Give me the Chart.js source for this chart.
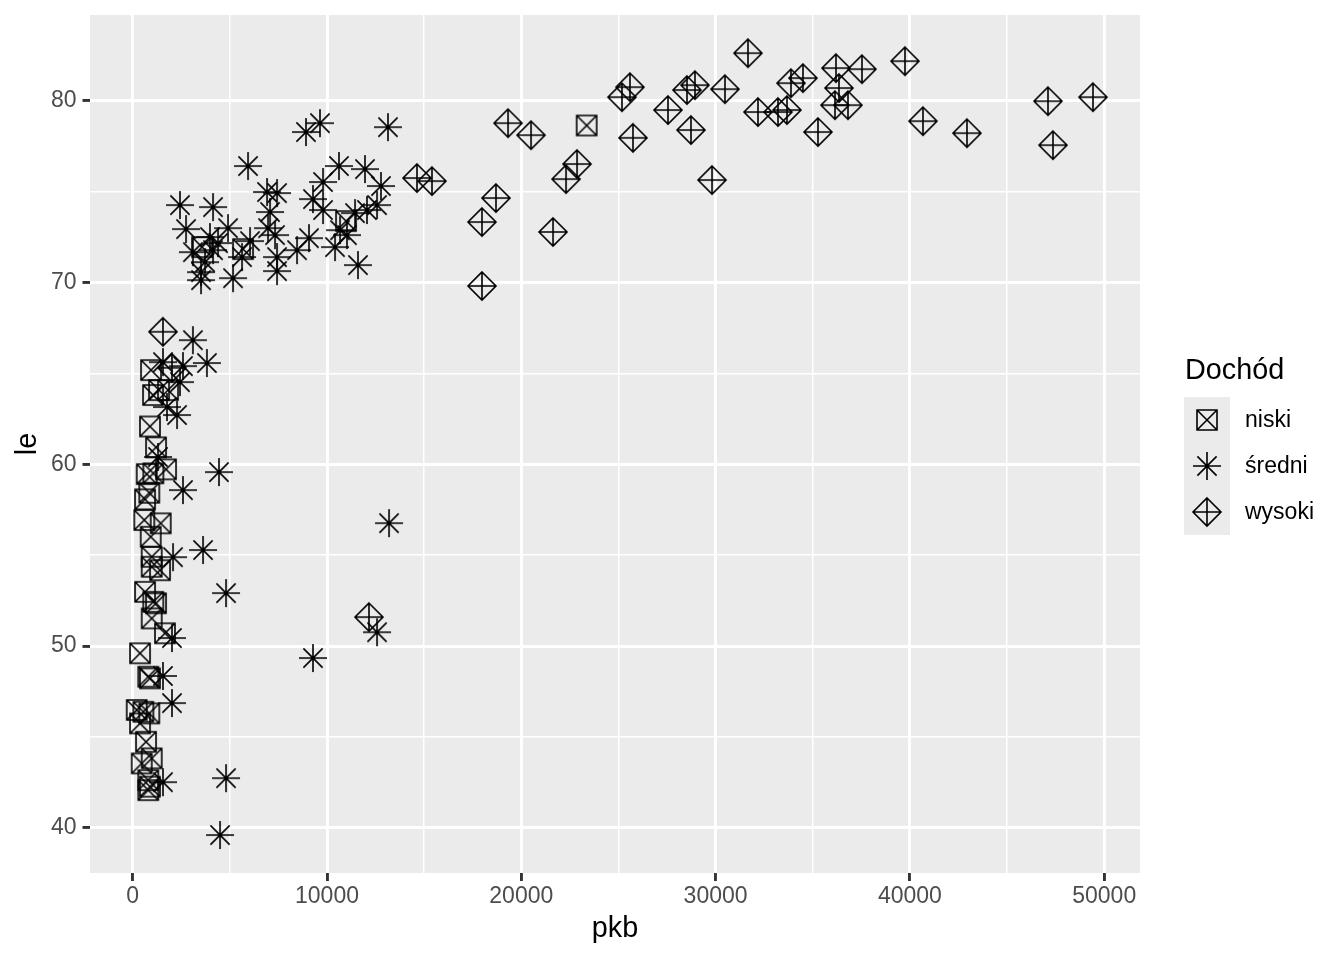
<!DOCTYPE html>
<html>
<head>
<meta charset="utf-8">
<script src="https://cdn.jsdelivr.net/npm/chart.js@4.4.1/dist/chart.umd.min.js"></script>
<style>
  html, body { margin: 0; padding: 0; background: #ffffff; }
  #wrap { width: 1344px; height: 960px; }
</style>
</head>
<body>
<div id="wrap"><canvas id="chart" width="1344" height="960"></canvas></div>
<script>
// niski (low income)
var niskiX = [942, 1354, 1817, 1045, 890, 1199, 1714, 720, 1062, 854, 633, 597, 1441, 926, 978,
              1405, 978, 633, 1060, 1199, 978, 1662, 376, 803, 890, 206, 546, 854, 376, 685,
              978, 463, 803, 803, 890, 23365, 3567, 5677, 10978];
var niskiY = [65.18, 64.08, 64.08, 63.81, 62.08, 60.93, 59.72, 59.46, 59.5, 58.43, 58.07, 56.93, 56.75, 56.01, 54.91,
              54.17, 54.36, 52.98, 52.43, 52.35, 51.52, 50.7, 49.6, 48.31, 48.22, 46.48, 46.38, 46.29, 45.74, 44.73,
              43.82, 43.54, 42.62, 42.07, 42.26, 78.64, 71.95, 71.84, 73.38];

// średni (middle income)
var sredniX = [3098, 3818, 1559, 2588, 2434, 1765, 2280, 1302, 4441, 2588, 3618, 2074, 4802, 2022, 9279,
               1559, 2022, 4802, 1559, 4493, 13191, 12574,
               2434, 4133, 5934, 2743, 4905, 3978, 3098, 4390, 3721, 3515, 3515, 5162, 5626, 6037,
               6912, 7427, 7067, 6964, 7324, 7427, 7427, 8456, 9073, 9279, 9794, 9794, 10617, 11955,
               12778, 10669, 10412, 11029, 11441, 12058, 12574, 11595, 8919, 9639, 13139, 4133];
var sredniY = [66.83, 65.57, 65.62, 65.4, 64.52, 63.15, 62.71, 60.4, 59.57, 58.58, 55.28, 54.89, 52.91, 50.44, 49.34,
               48.35, 46.86, 42.73, 42.51, 39.6, 56.76, 50.76,
               74.26, 74.15, 76.41, 72.94, 72.99, 72.5, 71.67, 72.17, 71.12, 70.57, 70.13, 70.24, 71.4, 72.28,
               74.98, 74.92, 73.88, 72.99, 72.61, 71.4, 70.63, 71.78, 72.44, 74.59, 75.53, 73.99, 76.41, 76.24,
               75.31, 72.88, 71.95, 72.61, 73.82, 73.99, 74.26, 70.96, 78.28, 78.77, 78.55, 71.78];

// wysoki (high income)
var wysokiX = [1559, 2022, 14630, 15402, 12161, 19317, 20500, 22868, 22302, 18697, 17977, 21632, 17977, 25748,
               25182, 25594, 27550, 28734, 29815, 28528, 28939, 30483, 31667, 32181, 33211, 33674, 33880,
               34497, 35269, 36195, 37534, 36350, 36144, 36813, 39746, 40672, 42937, 47106, 47363, 49421];
var wysokiY = [67.29, 65.31, 75.75, 75.58, 51.59, 78.77, 78.11, 76.52, 75.69, 74.65, 73.33, 72.78, 69.81, 77.96,
               80.2, 80.75, 79.49, 78.39, 75.64, 80.59, 80.86, 80.64, 82.62, 79.38, 79.38, 79.49, 80.97,
               81.25, 78.28, 81.8, 81.74, 80.7, 79.76, 79.76, 82.18, 78.88, 78.22, 79.98, 77.56, 80.2];

var categories = ['niski', 'średni', 'wysoki'];
var xTicks = [0, 5000, 10000, 15000, 20000, 25000, 30000, 35000, 40000, 45000, 50000];
var xTickLabels = ['0', '', '10000', '', '20000', '', '30000', '', '40000', '', '50000'];
var yTicks = [40, 45, 50, 55, 60, 65, 70, 75, 80];
var yTickLabels = ['40', '', '50', '', '60', '', '70', '', '80'];

var FONT = '"Liberation Sans", Arial, Helvetica, sans-serif';
var PANEL = '#EBEBEB';

function pairs(xs, ys) {
    return xs.map(function(x, i) { return { x: x, y: ys[i] }; });
}

// ggplot-like shapes drawn once onto small canvases and used as pointStyle
function makeShape(kind, bg) {
    var size = bg ? 46 : 32;
    var c = document.createElement('canvas');
    c.width = size;
    c.height = size;
    var g = c.getContext('2d');
    var m = size / 2;
    if (bg) {
        g.fillStyle = bg;
        g.fillRect(0, 0, size, size);
    }
    g.strokeStyle = '#000000';
    g.lineWidth = 1.6;
    g.beginPath();
    if (kind === 'square') {
        var h = 10;
        g.rect(m - h, m - h, 2 * h, 2 * h);
        g.moveTo(m - h, m - h); g.lineTo(m + h, m + h);
        g.moveTo(m + h, m - h); g.lineTo(m - h, m + h);
    } else if (kind === 'star') {
        var r = 14, d = 9.6;
        g.moveTo(m - r, m); g.lineTo(m + r, m);
        g.moveTo(m, m - r); g.lineTo(m, m + r);
        g.moveTo(m - d, m - d); g.lineTo(m + d, m + d);
        g.moveTo(m + d, m - d); g.lineTo(m - d, m + d);
    } else {
        var k = 14;
        g.moveTo(m, m - k); g.lineTo(m + k, m); g.lineTo(m, m + k); g.lineTo(m - k, m); g.closePath();
        g.moveTo(m - k, m); g.lineTo(m + k, m);
        g.moveTo(m, m - k); g.lineTo(m, m + k);
    }
    g.stroke();
    return c;
}

var kinds = ['square', 'star', 'diamond'];
var shapes = kinds.map(function(k) { return makeShape(k); });
var keyShapes = kinds.map(function(k) { return makeShape(k, PANEL); });

var panelBg = {
    id: 'panelBg',
    beforeDraw: function(chart) {
        var a = chart.chartArea, ctx = chart.ctx;
        ctx.save();
        ctx.fillStyle = PANEL;
        ctx.fillRect(a.left, a.top, a.right - a.left, a.bottom - a.top);
        ctx.restore();
    }
};

var ggLegend = {
    id: 'ggLegend',
    afterDraw: function(chart) {
        var ctx = chart.ctx;
        var left = 1184, top = 397, key = 46;
        ctx.save();
        ctx.fillStyle = '#000000';
        ctx.font = '28.8px ' + FONT;
        ctx.textBaseline = 'alphabetic';
        ctx.textAlign = 'left';
        ctx.fillText('Dochód', 1185, 379);
        ctx.font = '23px ' + FONT;
        ctx.textBaseline = 'middle';
        categories.forEach(function(name, i) {
            ctx.drawImage(keyShapes[i], left, top + i * key);
            ctx.fillText(name, 1245, top + i * key + key / 2 + 1);
        });
        ctx.restore();
    }
};

function isMajor(list, labels, v) {
    var i = list.indexOf(v);
    return i >= 0 && labels[i] !== '';
}

var ctx = document.getElementById('chart').getContext('2d');
new Chart(ctx, {
    type: 'scatter',
    data: {
        datasets: [
            { label: categories[0], data: pairs(niskiX, niskiY), pointStyle: shapes[0], pointRadius: 10 },
            { label: categories[1], data: pairs(sredniX, sredniY), pointStyle: shapes[1], pointRadius: 14 },
            { label: categories[2], data: pairs(wysokiX, wysokiY), pointStyle: shapes[2], pointRadius: 14 }
        ]
    },
    options: {
        responsive: false,
        devicePixelRatio: 1,
        animation: false,
        events: [],
        layout: { padding: { left: 0, right: 204, top: 15, bottom: 0 } },
        plugins: {
            legend: { display: false },
            tooltip: { enabled: false }
        },
        scales: {
            x: {
                type: 'linear',
                min: -2198,
                max: 51843,
                afterBuildTicks: function(scale) {
                    scale.ticks = xTicks.map(function(v) { return { value: v }; });
                },
                afterFit: function(scale) {
                    scale.height = 87;
                    scale.paddingLeft = 0;
                    scale.paddingRight = 0;
                },
                border: { display: false },
                grid: {
                    color: '#FFFFFF',
                    lineWidth: function(c) { return isMajor(xTicks, xTickLabels, c.tick.value) ? 2.9 : 1.5; },
                    tickLength: 8,
                    tickWidth: 2.9,
                    tickColor: function(c) { return isMajor(xTicks, xTickLabels, c.tick.value) ? '#333333' : 'rgba(0,0,0,0)'; }
                },
                ticks: {
                    autoSkip: false,
                    maxRotation: 0,
                    padding: 2,
                    color: '#4D4D4D',
                    font: { family: FONT, size: 23 },
                    callback: function(v) { var i = xTicks.indexOf(v); return i >= 0 ? xTickLabels[i] : ''; }
                },
                title: {
                    display: true,
                    text: 'pkb',
                    color: '#000000',
                    font: { family: FONT, size: 28.8 },
                    padding: { top: 0, bottom: 14 }
                }
            },
            y: {
                type: 'linear',
                min: 37.51,
                max: 84.72,
                afterBuildTicks: function(scale) {
                    scale.ticks = yTicks.map(function(v) { return { value: v }; });
                },
                afterFit: function(scale) {
                    scale.width = 90;
                    scale.paddingTop = 0;
                    scale.paddingBottom = 0;
                },
                border: { display: false },
                grid: {
                    color: '#FFFFFF',
                    lineWidth: function(c) { return isMajor(yTicks, yTickLabels, c.tick.value) ? 2.9 : 1.5; },
                    tickLength: 7.5,
                    tickWidth: 2.9,
                    tickColor: function(c) { return isMajor(yTicks, yTickLabels, c.tick.value) ? '#333333' : 'rgba(0,0,0,0)'; }
                },
                ticks: {
                    autoSkip: false,
                    padding: 6,
                    color: '#4D4D4D',
                    font: { family: FONT, size: 23 },
                    callback: function(v) { var i = yTicks.indexOf(v); return i >= 0 ? yTickLabels[i] : ''; }
                },
                title: {
                    display: true,
                    text: 'le',
                    color: '#000000',
                    font: { family: FONT, size: 28.8 },
                    padding: { top: 11, bottom: 0 }
                }
            }
        }
    },
    plugins: [panelBg, ggLegend]
});
</script>
</body>
</html>
